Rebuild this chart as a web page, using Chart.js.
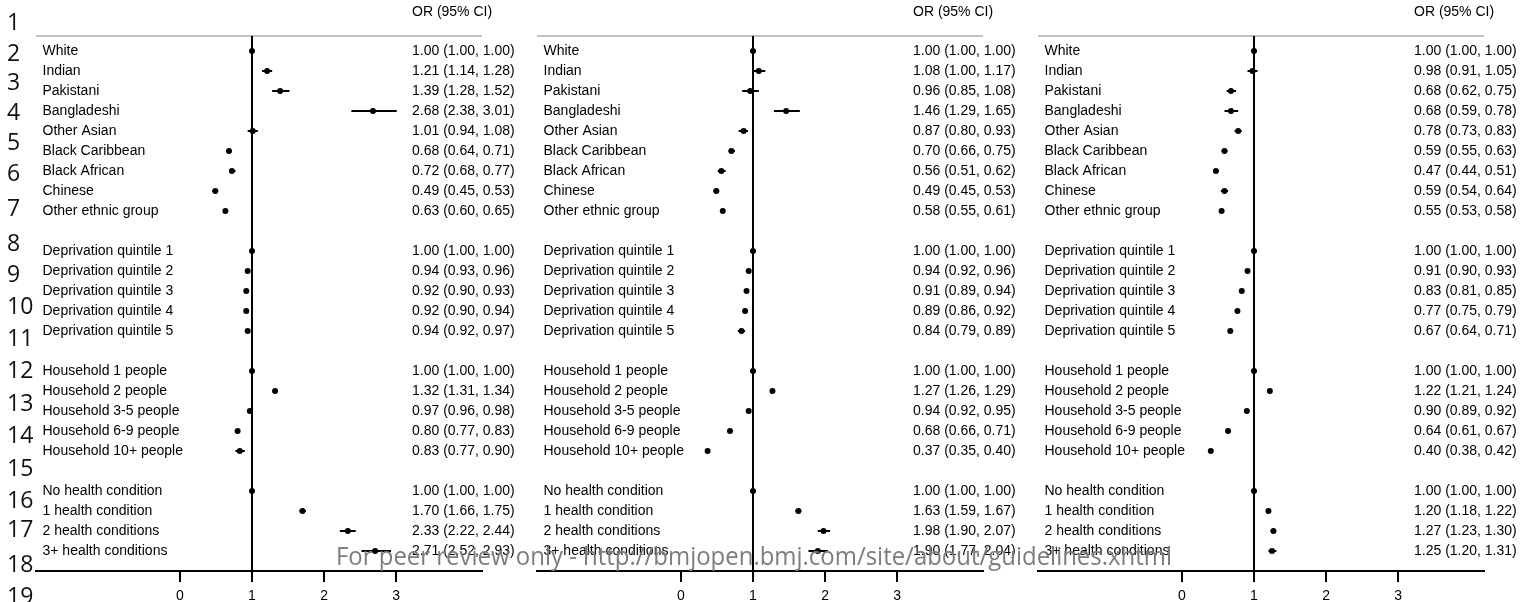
<!DOCTYPE html>
<html><head><meta charset="utf-8">
<script src="https://cdn.jsdelivr.net/npm/chart.js@4/dist/chart.umd.min.js"></script>
<style>
html,body{margin:0;padding:0;background:#fff;}
body{width:1521px;height:602px;overflow:hidden;position:relative;}
.pane{position:absolute;top:0;width:520px;height:610px;}
.ln{position:absolute;left:7px;font-family:"Open Sans";font-size:23px;line-height:23px;color:#111;white-space:nowrap;}
#wm{position:absolute;left:336px;top:543px;font-family:"Open Sans";font-size:25px;line-height:25px;color:#7d7d7d;white-space:nowrap;transform-origin:0 0;}
</style></head><body>
<div class="pane" style="left:0px"><canvas id="c0" width="520" height="610"></canvas></div>
<div class="pane" style="left:501px"><canvas id="c1" width="520" height="610"></canvas></div>
<div class="pane" style="left:1002px"><canvas id="c2" width="520" height="610"></canvas></div>
<div id="lns"></div>
<div id="wm"></div>
<script>
// ---------- data ----------
const categories = [
  "White","Indian","Pakistani","Bangladeshi","Other Asian","Black Caribbean","Black African","Chinese","Other ethnic group",
  "",
  "Deprivation quintile 1","Deprivation quintile 2","Deprivation quintile 3","Deprivation quintile 4","Deprivation quintile 5",
  "",
  "Household 1 people","Household 2 people","Household 3-5 people","Household 6-9 people","Household 10+ people",
  "",
  "No health condition","1 health condition","2 health conditions","3+ health conditions"
];
const or1 = [1.00,1.21,1.39,2.68,1.01,0.68,0.72,0.49,0.63, null, 1.00,0.94,0.92,0.92,0.94, null, 1.00,1.32,0.97,0.80,0.83, null, 1.00,1.70,2.33,2.71];
const lo1 = [1.00,1.14,1.28,2.38,0.94,0.64,0.68,0.45,0.60, null, 1.00,0.93,0.90,0.90,0.92, null, 1.00,1.31,0.96,0.77,0.77, null, 1.00,1.66,2.22,2.52];
const hi1 = [1.00,1.28,1.52,3.01,1.08,0.71,0.77,0.53,0.65, null, 1.00,0.96,0.93,0.94,0.97, null, 1.00,1.34,0.98,0.83,0.90, null, 1.00,1.75,2.44,2.93];
const or2 = [1.00,1.08,0.96,1.46,0.87,0.70,0.56,0.49,0.58, null, 1.00,0.94,0.91,0.89,0.84, null, 1.00,1.27,0.94,0.68,0.37, null, 1.00,1.63,1.98,1.90];
const lo2 = [1.00,1.00,0.85,1.29,0.80,0.66,0.51,0.45,0.55, null, 1.00,0.92,0.89,0.86,0.79, null, 1.00,1.26,0.92,0.66,0.35, null, 1.00,1.59,1.90,1.77];
const hi2 = [1.00,1.17,1.08,1.65,0.93,0.75,0.62,0.53,0.61, null, 1.00,0.96,0.94,0.92,0.89, null, 1.00,1.29,0.95,0.71,0.40, null, 1.00,1.67,2.07,2.04];
const or3 = [1.00,0.98,0.68,0.68,0.78,0.59,0.47,0.59,0.55, null, 1.00,0.91,0.83,0.77,0.67, null, 1.00,1.22,0.90,0.64,0.40, null, 1.00,1.20,1.27,1.25];
const lo3 = [1.00,0.91,0.62,0.59,0.73,0.55,0.44,0.54,0.53, null, 1.00,0.90,0.81,0.75,0.64, null, 1.00,1.21,0.89,0.61,0.38, null, 1.00,1.18,1.23,1.20];
const hi3 = [1.00,1.05,0.75,0.78,0.83,0.63,0.51,0.64,0.58, null, 1.00,0.93,0.85,0.79,0.71, null, 1.00,1.24,0.92,0.67,0.42, null, 1.00,1.22,1.30,1.31];
const xTicks = [0, 1, 2, 3];
const referenceValue = 1;
const columnHeader = "OR (95% CI)";
const lineNumbers = ["1","2","3","4","5","6","7","8","9","10","11","12","13","14","15","16","17","18","19"];
const watermarkText = "For peer review only - http://bmjopen.bmj.com/site/about/guidelines.xhtml";

// ---------- layout / style (not data) ----------
const lineNumberBaselines = [29,60,89,119,149,180,215,250,281,313,345,377,410,442,475,507,536,571,603];
const FONT = '"Liberation Sans", Arial, sans-serif';

// line numbers
const lnHost = document.getElementById('lns');
lineNumbers.forEach((t, i) => {
  const d = document.createElement('div');
  d.className = 'ln';
  d.textContent = t;
  d.style.top = (lineNumberBaselines[i] - 19) + 'px';
  lnHost.appendChild(d);
});

const forestText = {
  id: 'forestText',
  beforeDatasetsDraw(chart) {
    const {ctx, chartArea} = chart;
    ctx.save();
    ctx.strokeStyle = '#c0c0c0';
    ctx.lineWidth = 2;
    ctx.beginPath();
    ctx.moveTo(chartArea.left, chartArea.top);
    ctx.lineTo(chartArea.right, chartArea.top);
    ctx.stroke();
    ctx.restore();
  },
  afterDraw(chart, args, opts) {
    const {ctx, chartArea, scales} = chart;
    const y = scales.y;
    ctx.save();
    ctx.font = '14px ' + FONT;
    ctx.fillStyle = '#000';
    ctx.textBaseline = 'middle';
    ctx.textAlign = 'left';
    const orX = chartArea.left + 376;
    ctx.fillText(columnHeader, orX, 12);
    categories.forEach((c, i) => {
      if (!c) return;
      const py = y.getPixelForValue(i);
      ctx.fillText(c, chartArea.left + 6.5, py);
      const o = opts.or[i], l = opts.lo[i], h = opts.hi[i];
      if (o != null) ctx.fillText(`${o.toFixed(2)} (${l.toFixed(2)}, ${h.toFixed(2)})`, orX, py);
    });
    ctx.restore();
  }
};

function makeChart(id, or, lo, hi) {
  const pts = [], bars = [];
  categories.forEach((c, i) => {
    if (or[i] == null) return;
    pts.push({x: or[i], y: i});
    bars.push({x: lo[i], y: i}, {x: hi[i], y: i}, {x: null, y: null});
  });
  return new Chart(document.getElementById(id), {
    type: 'scatter',
    data: {
      datasets: [
        {type: 'scatter', data: pts, pointRadius: 3, pointHoverRadius: 3, backgroundColor: '#000', borderWidth: 0},
        {type: 'line', data: bars, borderColor: '#000', borderWidth: 2, pointRadius: 0, spanGaps: false, fill: false, tension: 0},
        {type: 'line', data: [{x: referenceValue, y: -0.75}, {x: referenceValue, y: categories.length}], borderColor: '#000', borderWidth: 2, pointRadius: 0, fill: false, clip: false}
      ]
    },
    options: {
      responsive: false,
      animation: false,
      events: [],
      layout: {padding: {left: 36, right: 38, top: 36, bottom: 0}},
      plugins: {legend: {display: false}, tooltip: {enabled: false}, forestText: {or, lo, hi}},
      scales: {
        x: {
          type: 'linear', position: 'bottom', min: -2, max: 4.194,
          afterBuildTicks: (ax) => { ax.ticks = xTicks.map(v => ({value: v})); },
          grid: {drawOnChartArea: false, drawTicks: true, tickLength: 11, color: '#000', lineWidth: 2},
          border: {display: true, color: '#000', width: 2},
          ticks: {font: {family: FONT, size: 14}, color: '#000', padding: 5.6, autoSkip: false, maxRotation: 0}
        },
        y: {type: 'linear', reverse: true, min: -0.75, max: categories.length, display: false}
      }
    },
    plugins: [forestText]
  });
}
makeChart('c0', or1, lo1, hi1);
makeChart('c1', or2, lo2, hi2);
makeChart('c2', or3, lo3, hi3);

// watermark
const wm = document.getElementById('wm');
wm.textContent = watermarkText;
const w = wm.getBoundingClientRect().width;
wm.style.transform = 'scaleX(' + (836 / w) + ')';
</script>
</body></html>
